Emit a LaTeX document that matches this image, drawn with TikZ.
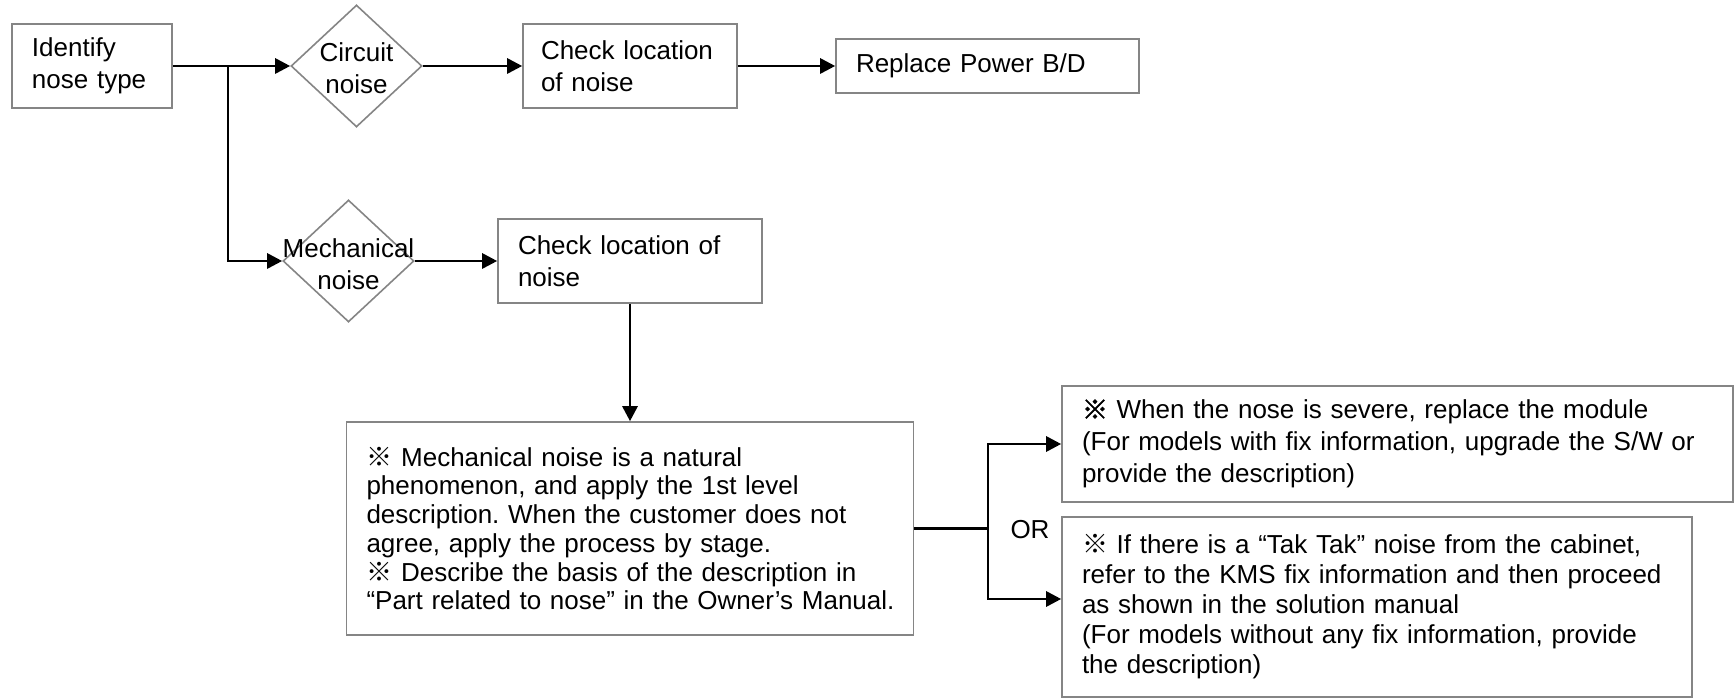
\documentclass[tikz,border=0pt]{standalone}
\usepackage{fontspec}
\setmainfont{Liberation Sans}
\newfontfamily\markfont{Noto Sans CJK SC}
\newfontfamily\markboldfont[FakeBold=2.5]{Noto Sans CJK SC}
\usetikzlibrary{shapes.geometric,arrows.meta}
\newcommand{\refmark}{{\markfont ※}}
\newcommand{\refmarkb}{{\markboldfont ※}}
\frenchspacing

\begin{document}
\begin{tikzpicture}[x=0.5pt,y=-0.5pt,
  font=\fontsize{13}{15.75}\selectfont,
  box/.style={draw=black!48,line width=0.8pt,align=left,inner xsep=10pt,inner ysep=0pt},
  dec/.style={diamond,draw=black!48,line width=0.8pt,inner sep=0pt,minimum width=65.5pt,minimum height=61pt},
  dectext/.style={align=center,inner sep=0pt},
  arr/.style={-{Triangle[length=7.5pt,width=7.5pt]},line width=1.4pt},
  link/.style={line width=1.4pt}
]
\useasboundingbox (0,0) rectangle (1734,699);

% ---- Top row: circuit noise ----
\node[box,text width=60pt,minimum height=42pt]                 (ident) at (92,66)    {Identify\\nose type};
\node[dec]                                                     (circ)  at (356.5,66) {};
\node[dectext]                                                 (circtxt) at ([yshift=-1pt]circ.center) {Circuit\\noise};
\node[box,text width=89pt,inner xsep=9pt,minimum height=42pt]  (chk1)  at (630,66)   {Check location\\of noise};
\node[box,text width=131.5pt,minimum height=27pt]              (repl)  at (987.5,66) {Replace Power B/D};

% ---- Second row: mechanical noise ----
\node[dec]                                                     (mech)  at (348.5,261) {};
\node[dectext]                                                 (mechtxt) at ([yshift=-1.5pt]mech.center) {Mechanical\\noise};
\node[box,text width=112pt,minimum height=42pt]                (chk2)  at (630,261)   {Check location of\\noise};

\node[box,text width=263.5pt,minimum height=106.5pt,font=\fontsize{13}{14.35}\selectfont] (note) at (630,528.5)
  {\refmark{} Mechanical noise is a natural\\phenomenon, and apply the 1st level\\description. When the customer does not\\agree, apply the process by stage.\\\refmark{} Describe the basis of the description in\\“Part related to nose” in the Owner’s Manual.};

% ---- Options ----
\node[box,text width=315.5pt,minimum height=58pt,font=\fontsize{13}{16}\selectfont] (fixa) at (1397.5,444)
  {\refmarkb{} When the nose is severe, replace the module\\(For models with fix information, upgrade the S/W or\\provide the description)};
\node[box,text width=295pt,minimum height=90pt,font=\fontsize{13}{15}\selectfont] (fixb) at (1377,607)
  {\refmark{} If there is a “Tak Tak” noise from the cabinet,\\refer to the KMS fix information and then proceed\\as shown in the solution manual\\(For models without any fix information, provide\\the description)};
\node[inner sep=0pt] (ortxt) at (1030,530) {OR};

% ---- Connectors ----
\coordinate (split) at (228,66);
\coordinate (fork)  at (988,528.5);
\draw[arr] (ident.east) -- (circ.west);
\draw[arr] (circ.east) -- (chk1.west);
\draw[arr] (chk1.east) -- (repl.west);
\draw[arr] (split) |- (mech.west);
\draw[arr] (mech.east) -- (chk2.west);
\draw[arr] (chk2.south) -- (note.north);
\draw[link] (note.east) -- (fork);
\draw[arr] (fork) |- (fixa.west);
\draw[arr] (fork) |- ([yshift=4pt]fixb.west);
\end{tikzpicture}
\end{document}
